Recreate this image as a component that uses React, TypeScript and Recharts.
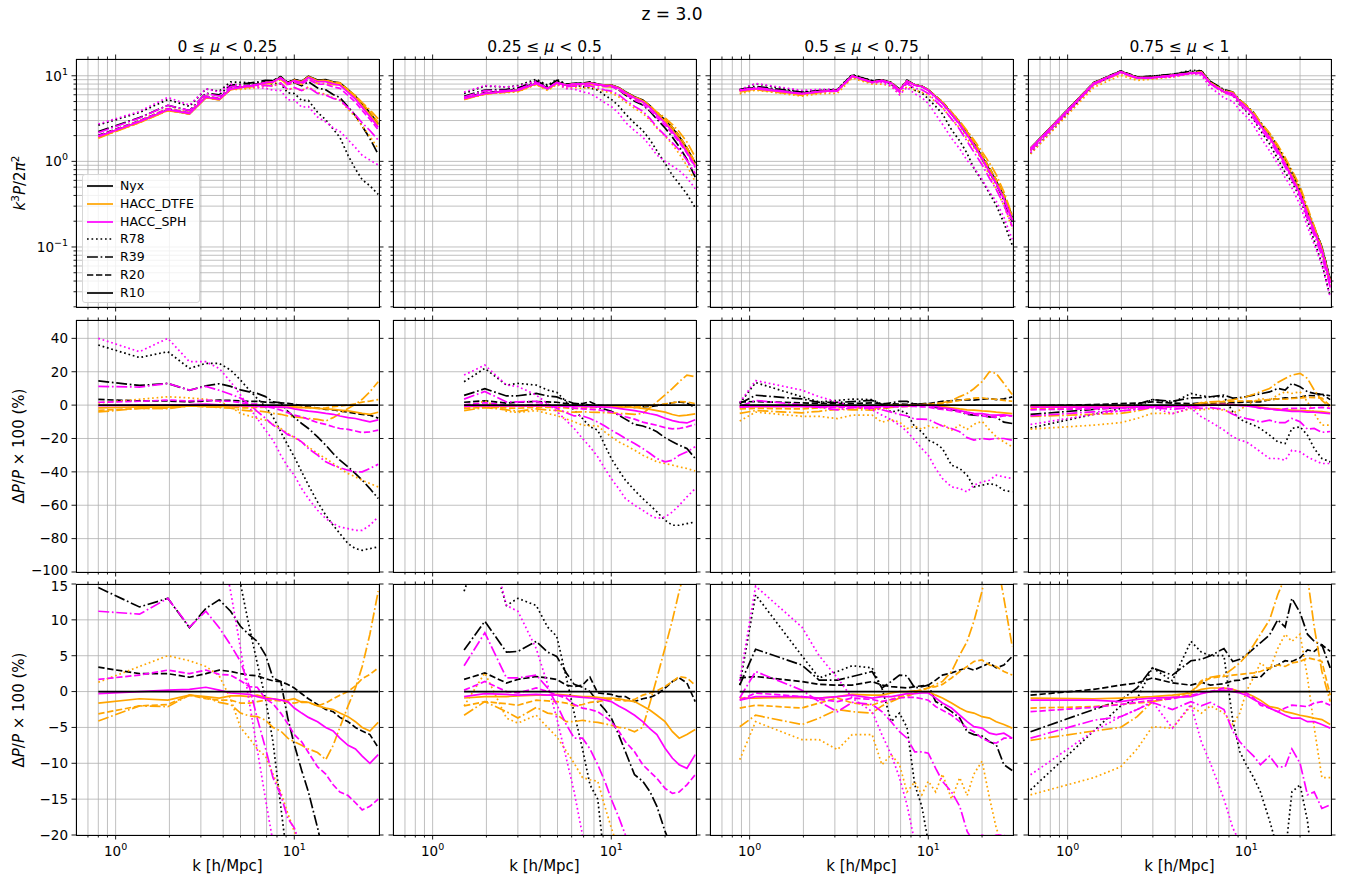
import React from 'react';
import { LineChart, Line, XAxis, YAxis, CartesianGrid } from 'recharts';

// ---- values (z = 3.0) ----

// k bins [h/Mpc] of each mu slice
const k_mu0 = [0.8, 1.36, 1.96, 2.59, 3.2, 3.8, 4.4, 5.0, 5.6, 6.2, 6.9, 7.6, 8.4, 9.2, 10, 11, 12, 13.5, 15, 16.5, 18, 20, 22, 24, 26.5, 29.5];
const k_mu1 = [1.5, 1.96, 2.59, 3.0, 3.8, 4.4, 4.95, 5.6, 6.2, 6.9, 7.6, 8.4, 9.2, 10, 11, 12, 13.5, 15, 16.5, 18, 20, 22, 24, 26.5, 29.5];
const k_mu2 = [0.88, 1.08, 1.96, 2.45, 3.1, 3.75, 4.85, 5.5, 6.2, 6.9, 7.6, 8.4, 9.2, 10, 11, 12, 13.5, 15, 16.5, 18, 20, 22, 24, 26.5, 29.5];
const k_mu3 = [0.62, 1.4, 1.98, 2.45, 2.98, 3.86, 4.9, 5.6, 6.3, 7.5, 8.4, 9.2, 10, 11, 12, 13.5, 15, 16.5, 18, 20, 22, 24, 26.5, 29.5];

// Nyx R10 reference, k^3 P / 2pi^2
const ref_mu0 = [1.95, 2.9, 4.0, 3.6, 5.6, 5.3, 7.0, 7.3, 7.6, 7.9, 8.4, 8.6, 9.6, 8.3, 9.0, 8.6, 9.9, 8.9, 9.0, 8.5, 8.3, 6.9, 5.8, 4.7, 3.7, 2.75];
const ref_mu1 = [5.45, 6.2, 6.6, 6.8, 8.15, 7.1, 8.4, 7.8, 8.1, 8.1, 8.3, 8.0, 7.8, 7.8, 7.3, 6.5, 5.7, 5.2, 4.45, 3.7, 3.05, 2.45, 1.95, 1.43, 0.96];
const ref_mu2 = [6.8, 7.1, 6.2, 6.6, 6.8, 10.0, 8.5, 8.9, 8.3, 6.8, 8.7, 7.8, 7.5, 6.8, 5.7, 4.85, 3.65, 2.8, 2.13, 1.63, 1.14, 0.8, 0.59, 0.39, 0.22];
const ref_mu3 = [1.43, 8.3, 11.3, 9.6, 9.6, 10.2, 10.8, 10.9, 8.15, 6.5, 6.2, 5.0, 4.3, 3.5, 2.67, 1.95, 1.37, 0.96, 0.67, 0.43, 0.25, 0.16, 0.094, 0.04];

// dP/P x 100 (%) against Nyx R10
const mu0_nyx_R78 = [36, 28.5, 32, 22, 25, 25, 21, 15, 9, 4, -1, -7, -16, -24, -31, -40, -48, -58, -66, -72, -77, -83, -86, -87, -86, -85];
const mu0_nyx_R39 = [14.5, 11.8, 13, 8.9, 11.6, 12.8, 11.2, 9.1, 7.9, 7.0, 5.1, 1.9, 1.4, -3.7, -7.4, -11, -14, -19, -24, -29, -33, -37, -41, -45, -50, -56];
const mu0_nyx_R20 = [3.4, 2.5, 2.5, 2.0, 2.5, 3.0, 2.8, 2.5, 2.3, 2.2, 1.8, 1.5, 1.4, 1.0, 0.5, -0.3, -1.0, -1.8, -2.5, -2.8, -3.6, -4.2, -5.0, -5.5, -6.0, -7.8];
const mu0_dtfe_R78 = [1.3, 3.5, 5.0, 4.3, 3.5, 2.2, -1, -5, -6.5, -8, -9, -11.5, -14, -17, -19.5, -22, -25, -29, -32, -35, -38, -41, -43, -45, -47, -49];
const mu0_dtfe_R39 = [-4.1, -2.0, -2.1, -0.5, -0.8, -1.5, -1.8, -3.0, -3.4, -3.5, -4.0, -5.0, -5.5, -6.5, -7.0, -7.5, -8.0, -8.5, -9.5, -7.5, -5, -2, 0.5, 3.5, 8, 14];
const mu0_dtfe_R20 = [-3.1, -2.0, -1.8, -0.5, -1.0, -1.2, -1.2, -1.6, -1.6, -1.4, -1.2, -1.2, -1.3, -1.5, -1.6, -1.4, -1.5, -2.0, -1.6, -1.0, -0.5, 0.0, 0.8, 1.8, 2.4, 3.3];
const mu0_dtfe_R10 = [-1.6, -1.0, -1.2, -0.5, -0.7, -0.9, -0.6, -0.6, -0.7, -0.5, -0.8, -1.0, -1.2, -1.2, -1.0, -1.5, -1.5, -2.0, -2.3, -2.5, -3.0, -3.5, -4.2, -5.0, -5.5, -4.3];
const mu0_sph_R78 = [40, 32, 40, 26, 26, 22, 14, 6, -1.5, -8, -15, -21, -30, -37, -42, -50, -56, -63, -68, -71, -73, -74, -75, -75, -72, -67];
const mu0_sph_R39 = [11.2, 10.8, 13, 9, 11.2, 8.9, 6.5, 4.2, 0.7, -3.7, -7.9, -12, -14.4, -17.7, -19, -22, -26, -30, -34, -36, -37.5, -39, -40, -40, -38, -35.5];
const mu0_sph_R20 = [1.7, 2.3, 3.0, 2.5, 3.0, 2.4, 2.3, 1.5, 0.7, 0.6, -1.0, -1.7, -3.0, -4.5, -6.0, -7.0, -8.5, -10.5, -11.5, -13, -14, -14.5, -15.5, -16.5, -16, -15];
const mu0_sph_R10 = [-0.3, 0.0, 0.2, 0.3, 0.6, 0.2, -0.2, -0.3, -0.4, -0.7, -1.0, -1.0, -1.2, -1.4, -2.3, -3.0, -3.6, -4.2, -5.0, -5.5, -6.5, -7.5, -8.0, -9.0, -10.0, -8.8];

const mu1_nyx_R78 = [14, 22, 12, 13, 12, 9, 7.7, 2, -3, -8, -13, -15, -24, -32, -39, -45, -51, -56, -60, -64, -69, -72, -72, -71, -70];
const mu1_nyx_R39 = [5.8, 9.8, 5.5, 5.6, 7.0, 5.5, 4.9, 2.6, 1.0, 0.6, 0, -1.4, -2.5, -3.7, -6, -8.4, -11.6, -12.5, -14, -16, -19.5, -22, -24, -26, -32];
const mu1_nyx_R20 = [1.7, 2.6, 1.2, 1.7, 2.1, 1.9, 1.7, 0.9, 0.7, 0.9, 2.0, -0.2, -0.3, -0.4, -0.7, -0.7, -1.4, -1.0, -0.8, -0.4, 0.5, 1.4, 1.9, 1.2, -1.4];
const mu1_dtfe_R78 = [-2, 2.6, -3.7, -4.4, -3.3, -5, -6.3, -8.3, -10, -12, -12.3, -12.5, -16, -19, -22, -24, -27, -30, -32, -34, -35, -36, -37, -38, -39.5];
const mu1_dtfe_R39 = [-3.3, -1.4, -2.8, -3.7, -2.2, -3.0, -3.2, -4.2, -4.2, -4.0, -4.2, -4.3, -4.5, -4.7, -5.0, -5.1, -5.6, -5.0, -1.5, 1.9, 6.1, 10, 14, 18, 17];
const mu1_dtfe_R20 = [-2.0, -1.4, -1.7, -1.9, -1.2, -1.3, -1.4, -1.6, -2.0, -1.8, -1.5, -1.4, -1.2, -1.1, -1.2, -1.3, -1.1, -0.5, -0.2, 0.1, 0.7, 1.4, 2.1, 1.9, 0.9];
const mu1_dtfe_R10 = [-0.9, -0.7, -0.7, -0.6, -0.5, -0.5, -0.4, -0.5, -0.6, -0.7, -0.7, -0.8, -0.9, -0.9, -1.0, -1.2, -1.4, -2.0, -2.6, -3.3, -4.2, -5.6, -6.5, -6.0, -5.3];
const mu1_sph_R78 = [18, 24, 12, 11.2, 6, 1, -3.7, -9.3, -14, -20, -25, -31, -38, -44, -50, -56, -60, -63, -66, -68, -67, -64, -60, -55, -50];
const mu1_sph_R39 = [3.6, 8.2, 1.9, 1.9, 2.3, 0.5, -1.8, -4.6, -6.5, -6.5, -8, -10.2, -12.5, -15, -17.5, -20, -23, -26, -29, -32, -34, -33, -30, -28, -25];
const mu1_sph_R20 = [0.2, 1.4, 0.0, -0.2, 0.5, 0.0, -0.5, -0.9, -1.8, -2.3, -2.5, -2.8, -3.5, -4.2, -5.5, -7, -8.4, -10.2, -11.2, -12.1, -13.5, -14.2, -14, -13, -11.6];
const mu1_sph_R10 = [-0.7, -0.3, -0.4, -0.5, -0.4, -0.5, -0.5, -0.6, -0.7, -0.8, -0.9, -1.0, -1.2, -1.4, -2.0, -2.5, -3.3, -4.2, -5.2, -6.0, -7.9, -9.3, -10.2, -10.7, -8.8];

const mu2_nyx_R78 = [0.9, 13.5, 5, 1.9, 2.8, 3.6, 3.3, 0.5, -4.2, -3, -5, -13, -16, -21, -23, -26, -36, -38, -42, -49, -48, -47, -48, -51, -52];
const mu2_nyx_R39 = [0.9, 5.9, 3.7, 1.6, 1.6, 2.1, 2.8, 0.5, 1.4, 2.3, 2.2, 0.5, 0.7, 0.9, -1.4, -1.9, -2.8, -3.7, -5.6, -6, -6.2, -7, -7.4, -10.2, -11];
const mu2_nyx_R20 = [1.9, 2.1, 1.4, 1.0, 0.9, 0.9, 1.4, 0.9, 0.7, 0.6, 0.5, 0.7, 0.8, 0.9, 1.6, 2.3, 2.6, 3.0, 3.3, 3.0, 3.5, 4.0, 3.3, 3.7, 4.9];
const mu2_dtfe_R78 = [-9.5, -4.2, -6.7, -6.7, -8.1, -6, -6, -10.2, -8.8, -10.2, -14, -12.6, -14.4, -12.5, -14, -11.5, -15, -12, -14.5, -11.5, -9.7, -14.8, -19, -22, -25];
const mu2_dtfe_R39 = [-4.9, -3.3, -4.6, -3.7, -2.5, -2.8, -3.0, -2.0, -1.4, -0.9, -0.7, -0.2, 0.2, 0.5, 1.0, 1.4, 2.8, 5.1, 7.0, 9.8, 14, 20, 19, 13, 6.3];
const mu2_dtfe_R20 = [-2.3, -1.9, -2.3, -1.6, -0.9, -1.6, -1.9, -1.4, -1.1, -0.7, -0.5, 0.0, 0.3, 0.5, 0.7, 1.0, 1.9, 2.8, 3.5, 4.2, 4.4, 3.7, 3.5, 2.8, 2.3];
const mu2_dtfe_R10 = [-0.9, -0.9, -0.8, -0.9, -0.7, -0.4, -0.5, -0.5, -0.2, 0.0, 0.0, 0.1, 0.0, 0.0, -0.5, -0.9, -1.6, -2.3, -2.8, -3.0, -3.5, -3.7, -4.2, -4.6, -5.1];
const mu2_sph_R78 = [1.5, 14.7, 9, 5, 1.9, -0.9, -2.8, -6, -8.8, -12, -15.8, -21, -26, -30, -38, -44, -49, -50, -52, -48, -46, -45, -42, -43, -44];
const mu2_sph_R39 = [-0.9, 2.8, 0.2, -1.4, -2.8, -1.5, -1.8, -2.8, -4.2, -5.6, -6.5, -8.4, -8.4, -8.6, -10.7, -12.5, -14, -16, -19.5, -21, -20, -20.5, -20, -20, -21];
const mu2_sph_R20 = [-1.2, -0.2, -0.7, -1.1, -1.4, -0.9, -1.1, -1.4, -1.1, -0.9, -0.8, -0.8, -1.0, -1.2, -2.1, -2.6, -3.3, -4.2, -5.1, -5.6, -6.5, -7.0, -7.2, -6.5, -6.5];
const mu2_sph_R10 = [-1.2, -0.7, -0.7, -0.9, -0.7, -0.5, -0.9, -0.7, -0.7, -0.5, -0.3, -0.3, -0.2, -0.2, -0.9, -1.6, -2.3, -3.3, -4.2, -4.9, -5.1, -5.8, -6.0, -5.8, -6.5];

const mu3_nyx_R78 = [-13.7, -5.5, -2.0, -1.0, 3.3, 1.5, 7.0, 5.5, 5, 5, -4, -8.4, -10.2, -12, -14, -18, -22, -23, -14, -13, -18, -26, -32, -34];
const mu3_nyx_R39 = [-5.6, -2.5, -1.2, 0.5, 3.3, 2.3, 4.3, 4.5, 5, 6, 4.2, 4.5, 5.1, 6, 6.8, 7.9, 10, 9, 13, 11, 8, 7, 6.5, 3.3];
const mu3_nyx_R20 = [-0.5, 0.3, 0.9, 1.2, 1.9, 1.2, 0.9, 1.3, 0.9, 1.1, 1.5, 1.6, 1.9, 2.0, 2.0, 3.3, 3.7, 4.3, 4.2, 4.7, 5.8, 5.6, 6.5, 5.6];
const mu3_dtfe_R78 = [-14.4, -12, -10.5, -8, -4.9, -5.1, -2, -3, -2, -3, -4.6, -3, 0, 2, 4, 3, 6, 8, 7, 8, 2, -5, -12, -12];
const mu3_dtfe_R39 = [-6.8, -5.5, -5, -3.5, -1.4, -0.8, -0.5, 1.5, 2, 2.3, 3.2, 4, 5, 6.5, 8, 10, 13.5, 16, 18, 19, 16, 9, 2.8, -1.4];
const mu3_dtfe_R20 = [-2.3, -2.1, -1.8, -1.6, -1.4, -0.9, 0.0, 1.2, 1.9, 2.1, 2.3, 2.4, 2.5, 2.6, 2.8, 3.3, 3.7, 3.5, 4.0, 4.2, 4.7, 4.5, 4.2, -0.5];
const mu3_dtfe_R10 = [-0.9, -1.0, -0.9, -0.8, -0.7, -0.5, -0.2, 0.3, 0.5, 0.5, 0.3, 0.0, -0.2, -0.7, -1.2, -2.1, -2.3, -2.8, -3.0, -3.3, -3.5, -3.7, -3.9, -4.6];
const mu3_sph_R78 = [-11.6, -5.5, -3.5, -2.5, -1.4, -5.1, -1.8, -7, -10, -15, -19, -21, -22, -25, -28, -32, -32, -33, -27, -28, -31, -33, -35, -35];
const mu3_sph_R39 = [-6.5, -4.0, -3.5, -2.5, -1.5, -2.5, -1.4, -2, -1.5, -2.5, -5.5, -7, -8, -9, -10.2, -9, -10.5, -10.5, -8, -10, -14.4, -14, -16.3, -15.8];
const mu3_sph_R20 = [-2.8, -2.2, -1.8, -1.5, -1.2, -1.0, -0.5, -0.2, 0.0, 0.5, 0.3, -0.1, -0.2, -0.9, -1.9, -2.3, -2.8, -2.3, -1.9, -2.0, -2.1, -1.6, -1.4, -1.9];
const mu3_sph_R10 = [-1.2, -1.2, -1.4, -1.1, -0.9, -0.8, -0.7, -0.3, 0.0, 0.2, 0.0, -0.2, -0.5, -1.1, -1.6, -2.3, -2.8, -3.3, -3.7, -3.7, -4.2, -4.2, -4.6, -5.1];

// axis ticks
const xTicks = [0.7, 0.8, 0.9, 1, 2, 3, 4, 5, 6, 7, 8, 9, 10, 20];
const pTicks = [0.02, 0.03, 0.04, 0.05, 0.06, 0.07, 0.08, 0.09, 0.1, 0.2, 0.3, 0.4, 0.5, 0.6, 0.7, 0.8, 0.9, 1, 2, 3, 4, 5, 6, 7, 8, 9, 10];
const dTicksWide = [-100, -80, -60, -40, -20, 0, 20, 40];
const dTicksZoom = [-20, -15, -10, -5, 0, 5, 10, 15];

const muTitles = ['0', '0.25', '0.5', '0.75', '1'];

// ---- styling ----
const FONT = "'DejaVu Sans', Verdana, sans-serif";
const TICK_FONT = 13.5;
const LW = 1.7;

const codes = [
  { id: 'nyx', label: 'Nyx', color: '#000000' },
  { id: 'dtfe', label: 'HACC_DTFE', color: '#ffa500' },
  { id: 'sph', label: 'HACC_SPH', color: '#ff00ff' },
];
const resolutions = [
  { id: 'R78', dash: '1.7 2.8' },
  { id: 'R39', dash: '10.9 2.7 1.7 2.7' },
  { id: 'R20', dash: '6.3 2.7' },
  { id: 'R10', dash: undefined as string | undefined },
];

const colLeft = [76, 393, 710, 1028];
const PLOT_W = 303;
const rowTop = [59, 320, 584];
const rowH = [248, 252, 251];
const X_DOMAIN = [0.6, 29.8];

const panelRows = [
  { key: 'p', scale: 'log', domain: [0.0199, 15.7], ticks: pTicks },
  { key: 'd', scale: 'linear', domain: [-100, 51], ticks: dTicksWide },
  { key: 'd', scale: 'linear', domain: [-20, 15], ticks: dTicksZoom },
];

const bins = [
  { k: k_mu0, ref: ref_mu0, diff: { nyx: [mu0_nyx_R78, mu0_nyx_R39, mu0_nyx_R20, null], dtfe: [mu0_dtfe_R78, mu0_dtfe_R39, mu0_dtfe_R20, mu0_dtfe_R10], sph: [mu0_sph_R78, mu0_sph_R39, mu0_sph_R20, mu0_sph_R10] } },
  { k: k_mu1, ref: ref_mu1, diff: { nyx: [mu1_nyx_R78, mu1_nyx_R39, mu1_nyx_R20, null], dtfe: [mu1_dtfe_R78, mu1_dtfe_R39, mu1_dtfe_R20, mu1_dtfe_R10], sph: [mu1_sph_R78, mu1_sph_R39, mu1_sph_R20, mu1_sph_R10] } },
  { k: k_mu2, ref: ref_mu2, diff: { nyx: [mu2_nyx_R78, mu2_nyx_R39, mu2_nyx_R20, null], dtfe: [mu2_dtfe_R78, mu2_dtfe_R39, mu2_dtfe_R20, mu2_dtfe_R10], sph: [mu2_sph_R78, mu2_sph_R39, mu2_sph_R20, mu2_sph_R10] } },
  { k: k_mu3, ref: ref_mu3, diff: { nyx: [mu3_nyx_R78, mu3_nyx_R39, mu3_nyx_R20, null], dtfe: [mu3_dtfe_R78, mu3_dtfe_R39, mu3_dtfe_R20, mu3_dtfe_R10], sph: [mu3_sph_R78, mu3_sph_R39, mu3_sph_R20, mu3_sph_R10] } },
];

// the power of every run is the Nyx R10 reference scaled by its ratio
function buildRows(bin: any) {
  return bin.k.map((k: number, i: number) => {
    const row: Record<string, number> = { k };
    codes.forEach((c) => {
      resolutions.forEach((r, j) => {
        const arr = bin.diff[c.id][j];
        const d = arr ? arr[i] : 0;
        row[`d_${c.id}_${r.id}`] = d;
        row[`p_${c.id}_${r.id}`] = bin.ref[i] * (1 + d / 100);
      });
    });
    return row;
  });
}

const isMajorLog = (v: number) => {
  const l = Math.log10(v);
  return Math.abs(l - Math.round(l)) < 1e-6;
};
const powLabel = (v: number) => {
  const e = Math.round(Math.log10(v));
  return e < 0 ? '\u2212' + -e : String(e);
};
const numLabel = (v: number) => (v < 0 ? '\u2212' + -v : String(v));

function renderXTick(p: any, plotH: number, showLabel: boolean) {
  const { x, y, payload } = p;
  const v = payload.value;
  const major = isMajorLog(v);
  const len = major ? 4.5 : 2.5;
  return (
    <g>
      <line x1={x} x2={x} y1={y} y2={y + len} stroke="#000" strokeWidth={0.9} />
      <line x1={x} x2={x} y1={y - plotH} y2={y - plotH - len} stroke="#000" strokeWidth={0.9} />
      {showLabel && major && (
        <text x={x} y={y + 21} textAnchor="middle" fontSize={TICK_FONT} fontFamily={FONT} fill="#000">
          10<tspan dy={-6} fontSize={9.5}>{powLabel(v)}</tspan>
        </text>
      )}
    </g>
  );
}

function renderYTick(p: any, row: number, showLabel: boolean) {
  const { x, y, payload } = p;
  const v = payload.value;
  const log = row === 0;
  const major = log ? isMajorLog(v) : true;
  const len = major ? 4.5 : 2.5;
  // the labels where two panels meet sit very close; keep them apart a little
  let nudge = 0;
  if (row === 1 && v === -100) nudge = -2;
  if (row === 2 && v === 15) nudge = 2;
  return (
    <g>
      <line x1={x} x2={x - len} y1={y} y2={y} stroke="#000" strokeWidth={0.9} />
      <line x1={x + PLOT_W} x2={x + PLOT_W + len} y1={y} y2={y} stroke="#000" strokeWidth={0.9} />
      {showLabel && major && (
        <text x={x - len - 3.5} y={y + nudge} dy="0.36em" textAnchor="end" fontSize={TICK_FONT} fontFamily={FONT} fill="#000">
          {log ? (
            <>
              10<tspan dy={-6} fontSize={9.5}>{powLabel(v)}</tspan>
            </>
          ) : (
            numLabel(v)
          )}
        </text>
      )}
    </g>
  );
}

function Panel({ col, row, data }: { col: number; row: number; data: any[] }) {
  const cfg = panelRows[row];
  const leftW = col === 0 ? 72 : 8;
  const rightW = 8;
  const topH = 8;
  const bottomH = row === 2 ? 30 : 8;
  const plotH = rowH[row];
  const W = leftW + PLOT_W + rightW;
  const H = topH + plotH + bottomH;

  const series: { key: string; color: string; dash?: string }[] = [];
  codes.forEach((c) =>
    resolutions.forEach((r) => {
      series.push({ key: `${cfg.key}_${c.id}_${r.id}`, color: c.color, dash: r.dash });
    })
  );
  if (cfg.key === 'd') {
    // zero line of the reference run on top
    const i = series.findIndex((s) => s.key === 'd_nyx_R10');
    series.push(series.splice(i, 1)[0]);
  }

  return (
    <div style={{ position: 'absolute', left: colLeft[col] - leftW, top: rowTop[row] - topH }}>
      <LineChart width={W} height={H} data={data} margin={{ top: topH, right: rightW, bottom: 0, left: 0 }}>
        <CartesianGrid stroke="#b0b0b0" strokeWidth={0.8} />
        <XAxis
          dataKey="k"
          type="number"
          scale="log"
          domain={X_DOMAIN}
          ticks={xTicks}
          interval={0}
          allowDataOverflow
          height={bottomH}
          tickSize={0}
          tickMargin={0}
          axisLine={false}
          tickLine={false}
          tick={(p: any) => renderXTick(p, plotH, row === 2)}
        />
        <YAxis
          type="number"
          scale={cfg.scale as any}
          domain={cfg.domain}
          ticks={cfg.ticks}
          interval={0}
          allowDataOverflow
          width={leftW}
          tickSize={0}
          tickMargin={0}
          axisLine={false}
          tickLine={false}
          tick={(p: any) => renderYTick(p, row, col === 0)}
        />
        {series.map((s) => (
          <Line
            key={s.key}
            type="linear"
            dataKey={s.key}
            stroke={s.color}
            strokeWidth={LW}
            strokeDasharray={s.dash}
            dot={false}
            activeDot={false}
            isAnimationActive={false}
          />
        ))}
      </LineChart>
    </div>
  );
}

const legendItems = [
  { label: 'Nyx', color: '#000000', dash: undefined as string | undefined },
  { label: 'HACC_DTFE', color: '#ffa500', dash: undefined },
  { label: 'HACC_SPH', color: '#ff00ff', dash: undefined },
  { label: 'R78', color: '#000000', dash: resolutions[0].dash },
  { label: 'R39', color: '#000000', dash: resolutions[1].dash },
  { label: 'R20', color: '#000000', dash: resolutions[2].dash },
  { label: 'R10', color: '#000000', dash: undefined },
];

export default function App() {
  const tables = bins.map(buildRows);
  const centerOf = (c: number) => colLeft[c] + PLOT_W / 2;

  return (
    <div
      style={{
        position: 'absolute',
        left: 0,
        top: 0,
        width: 1347,
        height: 881,
        background: '#fff',
        fontFamily: FONT,
        color: '#000',
        overflow: 'hidden',
      }}
    >
      {[0, 1, 2].map((r) =>
        [0, 1, 2, 3].map((c) => <Panel key={`${r}-${c}`} col={c} row={r} data={tables[c]} />)
      )}

      {/* spines */}
      {[0, 1, 2].map((r) =>
        [0, 1, 2, 3].map((c) => (
          <div
            key={`b${r}-${c}`}
            style={{
              position: 'absolute',
              left: colLeft[c] - 0.5,
              top: rowTop[r] - 0.5,
              width: PLOT_W + 1,
              height: rowH[r] + 1,
              border: '1px solid #000',
              boxSizing: 'border-box',
              pointerEvents: 'none',
            }}
          />
        ))
      )}

      {/* legend */}
      <div
        style={{
          position: 'absolute',
          left: 82,
          top: 174,
          width: 118,
          height: 129,
          border: '1px solid #d6d6d6',
          borderRadius: 3,
          background: 'rgba(255,255,255,0.8)',
          boxSizing: 'border-box',
        }}
      >
        {legendItems.map((it, i) => (
          <div key={it.label} style={{ position: 'absolute', left: 0, top: 3 + i * 17.8, height: 16, width: 116 }}>
            <svg width={30} height={16} style={{ position: 'absolute', left: 3, top: 0 }}>
              <line x1={1} x2={27} y1={8} y2={8} stroke={it.color} strokeWidth={LW} strokeDasharray={it.dash} />
            </svg>
            <span style={{ position: 'absolute', left: 37, top: 0, lineHeight: '16px', fontSize: 12.5, whiteSpace: 'nowrap' }}>
              {it.label}
            </span>
          </div>
        ))}
      </div>

      {/* figure title */}
      <div style={{ position: 'absolute', left: 672, top: 14, transform: 'translate(-50%,-50%)', fontSize: 17, whiteSpace: 'nowrap' }}>
        z = 3.0
      </div>

      {/* mu slice titles */}
      {[0, 1, 2, 3].map((c) => (
        <div
          key={`t${c}`}
          style={{ position: 'absolute', left: centerOf(c), top: 47, transform: 'translate(-50%,-50%)', fontSize: 15.5, whiteSpace: 'nowrap' }}
        >
          {muTitles[c]} ≤ <i>μ</i> &lt; {muTitles[c + 1]}
        </div>
      ))}

      {/* x labels */}
      {[0, 1, 2, 3].map((c) => (
        <div
          key={`x${c}`}
          style={{ position: 'absolute', left: centerOf(c), top: 866, transform: 'translate(-50%,-50%)', fontSize: 15, whiteSpace: 'nowrap' }}
        >
          k [h/Mpc]
        </div>
      ))}

      {/* y labels */}
      <div
        style={{ position: 'absolute', left: 19, top: rowTop[0] + rowH[0] / 2, transform: 'translate(-50%,-50%) rotate(-90deg)', fontSize: 15, whiteSpace: 'nowrap' }}
      >
        <i>k</i>
        <sup style={{ fontSize: '0.7em' }}>3</sup>
        <i>P</i>/2<i>π</i>
        <sup style={{ fontSize: '0.7em' }}>2</sup>
      </div>
      {[1, 2].map((r) => (
        <div
          key={`y${r}`}
          style={{ position: 'absolute', left: 19, top: rowTop[r] + rowH[r] / 2, transform: 'translate(-50%,-50%) rotate(-90deg)', fontSize: 15, whiteSpace: 'nowrap' }}
        >
          Δ<i>P</i>/<i>P</i> × 100 (%)
        </div>
      ))}
    </div>
  );
}
